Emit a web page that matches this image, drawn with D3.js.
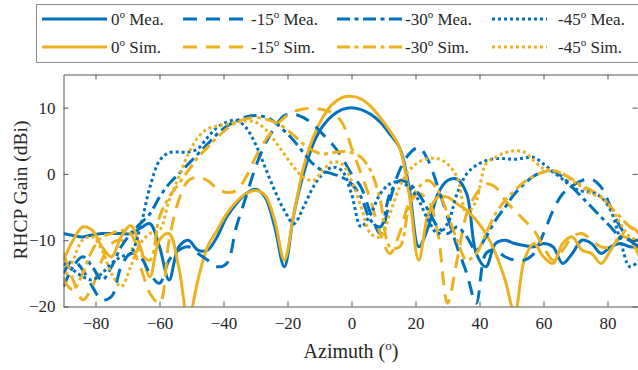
<!DOCTYPE html>
<html>
<head>
<meta charset="utf-8">
<script src="https://cdn.jsdelivr.net/npm/d3@7"></script>
<style>
  html, body { margin: 0; padding: 0; background: #fff; }
  svg { display: block; }
</style>
</head>
<body>
<svg id="chart" width="638" height="370"></svg>
<script>
// azimuth grid (deg)
const azimuth = [-90,-87,-84,-81,-78,-75,-72,-69,-66,-63,-60,-57,-54,-51,-48,-45,-42,-39,-36,-33,-30,-27,-24,-21,-18,-15,-12,-9,-6,-3,
  0,3,6,9,12,15,18,21,24,27,30,33,36,39,42,45,48,51,54,57,60,63,66,69,72,75,78,81,84,87,90];

const mea0 = [-9,-9.3,-9.5,-9.2,-9,-9,-9,-9,-8.2,-7.5,-11,-16,-11,-10,-11.5,-11.5,-9.5,-6.5,-4.5,-3,-2.3,-3.5,-8,-14,-6,0,4.5,7.2,8.8,9.7,
  10,9.7,9,7.8,6,4,-2,-11,-8,-3,-1,-0.8,-3,-12,-14,-10.5,-10,-10.5,-10.8,-11,-10.5,-11,-13.5,-12,-10,-10.5,-12,-11,-10.5,-11,-11];
const sim0 = [-13,-10,-8,-8.5,-11,-12.5,-9.5,-7.8,-11,-15.5,-10,-9,-14,-22,-16,-11,-8.5,-6,-4.2,-3,-2.5,-3.2,-7,-13,-6,1,5.5,8.5,10.5,11.5,
  11.7,11.3,10.2,8.5,6.5,4,-3,-13,-6,-3.5,-3.5,-4.5,-5.5,-7,-9,-12,-16,-21,-13,-10.5,-12.5,-13.5,-10.5,-9.5,-11.5,-12,-13.5,-11.5,-9.5,-10,-12.5];
const mea15 = [-15,-13,-14.5,-17,-19,-18.5,-14,-12,-12.5,-15,-16.5,-13,-11.5,-11,-12,-13,-14,-13.5,-8,-3.5,1,4.5,7,8.8,9,8.5,7.5,6,4.5,2.5,
  0,-2,-6,-9,-4,0.5,3,4,2,-2,-6.5,-11,-15,-19.5,-12,-11.5,-12.5,-13,-13,-12,-9,-5.5,-3,-1.8,-1,-0.8,-2,-5,-8,-10,-11];
const sim15 = [-12,-16,-19,-17,-13,-10.5,-10,-11,-14,-18,-19.5,-10,-4,-1,-0.5,-1,-2.2,-2.8,-2.5,-0.5,2.5,5,7,8.5,9.4,9.8,9.9,9.7,9.2,7.8,
  4,0,-4,-9,-12,-9,-4.5,-3,-4,-9,-19.5,-13,-6,-3,-1.5,-2,-4,-5.5,-7,-8.5,-11,-13,-11.5,-9.5,-9,-10,-11,-11,-9.5,-8,-9];
const mea30 = [-17,-14,-12.5,-14,-16,-14,-11,-9,-7.5,-6,-3.5,-1.5,0,1.5,3,4.5,6,7.2,8,8.6,8.8,8.6,7.8,6.5,5,3.2,1.5,0.5,0,-0.5,
  -1.5,-3.5,-7,-8,-3,-1,-1.5,-3,-5.5,-8,-9,-8,-9.5,-11.5,-9.5,-7,-5,-3,-1.5,-0.3,0.3,0.4,-0.5,-2,-3.5,-5,-6.5,-8,-9.5,-10,-10];
const sim30 = [-16,-17.5,-15,-11.5,-9.5,-9,-8.5,-9,-12,-13,-6.5,-3.5,-1.5,0.5,2.5,4,5.5,6.8,7.8,8.3,8.5,8.3,7.8,7,5.8,4.5,3.5,3,3.2,3.4,
  3.2,2.5,0.5,-4,-11,-11,-5,-2,-1,-2.5,-6,-10,-13,-12,-9,-6,-4,-2.5,-1.2,-0.3,0.3,0.5,0,-0.8,-1.8,-2.5,-3.5,-5,-6.5,-8,-9];
const mea45 = [-13.5,-14.5,-15.5,-16,-15,-13.5,-12.5,-12,-8,-2,2,3.2,3.3,3.3,3.8,5.5,7,7.8,8.1,7,4.5,1,-2.5,-5.5,-7.5,-5,-2,0,1,0.5,
  -3,-8,-6,-3,-1.5,-1.2,-2,-4,-7,-9,-7.5,-3,0,1.3,2,2.3,2.3,2.2,2.4,2.5,1.5,0.3,-0.8,-2,-2.6,-2.8,-3.5,-5.5,-10,-14,-13];
const sim45 = [-16,-13,-10,-9.5,-11.5,-15,-17,-14,-10.5,-9,-8.5,-4,-0.5,3,5.5,6.8,7.2,7.5,7.8,8,7.8,6.8,5,3,1,-0.5,-1,0.5,1.8,1.5,
  -1,-5,-9,-9.5,-6,-2,0.5,1.8,2.3,2.3,1.5,-0.5,-6,-4,1.5,2.5,3.2,3.5,3.3,2,0.8,0.5,0,-1,-2,-3,-3.5,-5,-7.5,-9.5,-10];

const xTicks = [-80,-60,-40,-20,0,20,40,60,80];
const yTicks = [-20,-10,0,10];

const series = [
  { name: "0", kind: "Mea.", values: mea0, color: "#0072BD", dash: null },
  { name: "0", kind: "Sim.", values: sim0, color: "#EDB120", dash: null },
  { name: "-15", kind: "Mea.", values: mea15, color: "#0072BD", dash: "14,9" },
  { name: "-15", kind: "Sim.", values: sim15, color: "#EDB120", dash: "14,9" },
  { name: "-30", kind: "Mea.", values: mea30, color: "#0072BD", dash: "13,4.5,4,4.5" },
  { name: "-30", kind: "Sim.", values: sim30, color: "#EDB120", dash: "13,4.5,4,4.5" },
  { name: "-45", kind: "Mea.", values: mea45, color: "#0072BD", dash: "3,3" },
  { name: "-45", kind: "Sim.", values: sim45, color: "#EDB120", dash: "3,3" }
];

const FONT = "Times New Roman";
const svg = d3.select("#chart");
const plotLeft = 63.5, plotRight = 639.5, plotTop = 74.5, plotBottom = 306.5;

const x = d3.scaleLinear().domain([-90, 90]).range([plotLeft, plotRight]);
const y = d3.scaleLinear().domain([-20, 15]).range([plotBottom, plotTop]);

svg.append("defs").append("clipPath").attr("id", "plotClip")
  .append("rect").attr("x", plotLeft).attr("y", plotTop)
  .attr("width", plotRight - plotLeft).attr("height", plotBottom - plotTop);

// curves
const line = d3.line()
  .x((d, i) => x(azimuth[i]))
  .y(d => y(d))
  .curve(d3.curveCatmullRom.alpha(0.5));

svg.append("g").attr("clip-path", "url(#plotClip)")
  .selectAll("path")
  .data(series)
  .join("path")
  .attr("d", d => line(d.values))
  .attr("fill", "none")
  .attr("stroke", d => d.color)
  .attr("stroke-width", 3)
  .attr("stroke-dasharray", d => d.dash);

// axes, MATLAB-like box with inward ticks
const axisColor = "#555";
const xAxis = svg.append("g").attr("transform", `translate(0,${plotBottom})`)
  .call(d3.axisBottom(x).tickValues(xTicks).tickSizeInner(-5).tickSizeOuter(0).tickPadding(10));
const yAxis = svg.append("g").attr("transform", `translate(${plotLeft},0)`)
  .call(d3.axisLeft(y).tickValues(yTicks).tickSizeInner(-5).tickSizeOuter(0).tickPadding(8));
const xTop = svg.append("g").attr("transform", `translate(0,${plotTop})`)
  .call(d3.axisTop(x).tickValues(xTicks).tickSizeInner(-5).tickSizeOuter(0).tickFormat(""));
const yRight = svg.append("g").attr("transform", `translate(${plotRight - 2},0)`)
  .call(d3.axisRight(y).tickValues(yTicks).tickSizeInner(-5).tickSizeOuter(0).tickFormat(""));

[xAxis, yAxis, xTop, yRight].forEach(g => {
  g.attr("font-family", null).attr("font-size", null);
  g.selectAll("path, line").attr("stroke", axisColor);
  g.selectAll("text").attr("fill", "#262626")
    .attr("font-family", FONT).attr("font-size", 17);
});
yRight.select(".domain").remove();

// axis titles
const xt = svg.append("text").attr("x", 351).attr("y", 358).attr("text-anchor", "middle")
  .attr("fill", "#262626").attr("font-family", FONT).attr("font-size", 20);
xt.append("tspan").text("Azimuth (");
xt.append("tspan").attr("dy", -8).attr("font-size", 13).text("o");
xt.append("tspan").attr("dy", 8).text(")");

svg.append("text")
  .attr("transform", "translate(27,190) rotate(-90)")
  .attr("text-anchor", "middle").attr("fill", "#262626")
  .attr("font-family", FONT).attr("font-size", 19.5)
  .text("RHCP Gain (dBi)");

// legend
const legend = svg.append("g");
legend.append("rect").attr("x", 36.5).attr("y", 4.5).attr("width", 620).attr("height", 58)
  .attr("fill", "#fff").attr("stroke", "#8a8a8a").attr("stroke-width", 1);

const legendCols = [
  { x0: 42, len: 65, tx: 111 },
  { x0: 183, len: 65, tx: 251 },
  { x0: 337, len: 65, tx: 405 },
  { x0: 492, len: 55, tx: 558 }
];
const legendRows = [19, 47];

series.forEach((s, i) => {
  const c = legendCols[Math.floor(i / 2)];
  const ry = legendRows[i % 2];
  legend.append("line")
    .attr("x1", c.x0).attr("x2", c.x0 + c.len).attr("y1", ry).attr("y2", ry)
    .attr("stroke", s.color).attr("stroke-width", 3)
    .attr("stroke-dasharray", s.dash);
  const t = legend.append("text").attr("x", c.tx).attr("y", ry + 6)
    .attr("fill", "#262626").attr("font-family", FONT).attr("font-size", 17);
  t.append("tspan").text(s.name);
  t.append("tspan").attr("dy", -7).attr("font-size", 11).text("o");
  t.append("tspan").attr("dy", 7).text(" " + s.kind);
});
</script>
</body>
</html>
